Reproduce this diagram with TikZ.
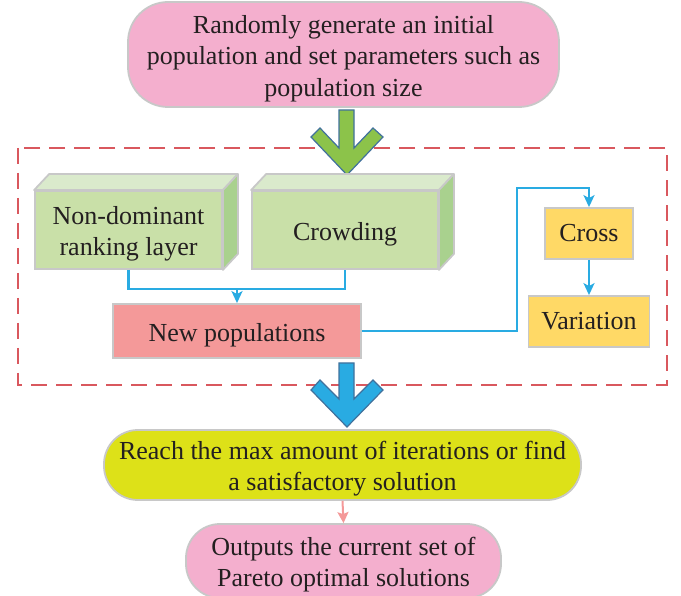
\documentclass[tikz,border=0pt]{standalone}
\usepackage{fontspec}
\setmainfont{Liberation Serif}
\usetikzlibrary{arrows.meta}
\definecolor{pinkfill}{RGB}{244,175,206}
\definecolor{salmon}{RGB}{244,153,153}
\definecolor{yelfill}{RGB}{255,217,102}
\definecolor{limefill}{RGB}{221,225,24}
\definecolor{gfront}{RGB}{201,224,168}
\definecolor{gtop}{RGB}{218,234,204}
\definecolor{gside}{RGB}{169,209,142}
\definecolor{edgegray}{RGB}{200,200,200}
\definecolor{lineblue}{RGB}{41,171,226}
\definecolor{dashred}{RGB}{217,88,94}
\definecolor{arrgreen}{RGB}{140,195,74}
\definecolor{arrblue}{RGB}{41,171,226}
\definecolor{arredge}{RGB}{65,113,156}
\definecolor{txt}{RGB}{35,31,32}
\newcommand\topstrut{\rule{0pt}{26pt}}
\begin{document}
\begin{tikzpicture}[x=1pt,y=-1pt,
  font=\fontsize{26}{31.5}\selectfont, text=txt,
  box/.style={draw=edgegray, line width=1.8pt, inner sep=0pt, align=center},
  pill/.style={box, rounded corners=#1},
  conn/.style={draw=lineblue, line width=2.4pt},
  tip/.style={-{Stealth[length=12pt,width=11pt,inset=3pt]}},
  blockarr/.style={draw=arredge, line width=1.2pt, line join=miter}]
\useasboundingbox (0,0) rectangle (681,596);

% dashed frame
\draw[dashred, line width=2.5pt, dash pattern=on 16pt off 9pt] (18,148) rectangle (667,385);

% top pill
\node[pill=40pt, fill=pinkfill, minimum width=431pt, minimum height=105pt] (init) at (343.5,54.5)
  {\topstrut Randomly generate an initial\\population and set parameters such as\\population size};

% green block arrow
\draw[blockarr, fill=arrgreen] (339,110) -- (354,110) -- (354,148) -- (373,128) -- (383,137)
  -- (347,175) -- (311,137) -- (320,128) -- (339,148) -- cycle;

% green 3D boxes
\node[box, fill=gfront, minimum width=187pt, minimum height=78pt] (rank) at (128.5,230)
  {\topstrut Non-dominant\\ranking layer};
\node[box, fill=gfront, minimum width=186pt, minimum height=78pt] (crowd) at (345,230) {\topstrut Crowding};
\foreach \b in {rank,crowd}{
  \draw[draw=edgegray, line width=1.8pt, fill=gtop, line join=round]
    (\b.north west) -- ([shift={(15,-16)}]\b.north west) -- ([shift={(15,-16)}]\b.north east)
    -- (\b.north east) -- cycle;
  \draw[draw=edgegray, line width=1.8pt, fill=gside, line join=round]
    (\b.north east) -- ([shift={(15,-16)}]\b.north east) -- ([shift={(15,-16)}]\b.south east)
    -- (\b.south east) -- cycle;
}

% new populations
\node[box, fill=salmon, minimum width=248pt, minimum height=54pt] (newpop) at (237,331) {\topstrut New populations};

% cross / variation
\node[box, fill=yelfill, minimum width=88pt, minimum height=51pt] (cross) at (589,233.5) {Cross};
\node[box, fill=yelfill, minimum width=121pt, minimum height=51pt] (var) at (589,321.5) {Variation};

% connectors
\coordinate (merge) at (237,289);
\draw[conn] (rank.south) |- (merge) -| (crowd.south);
\draw[conn, tip] (merge) -- (newpop.north);
\coordinate (turn) at (517,188);
\draw[conn, tip] (newpop.east) -| (turn) -| (cross.north);
\draw[conn, tip] (cross.south) -- (var.north);

% blue block arrow
\draw[blockarr, fill=arrblue] (339,363) -- (354,363) -- (354,399) -- (373,380) -- (383,390)
  -- (347,427) -- (311,390) -- (320,380) -- (339,399) -- cycle;

% termination pill
\node[pill=34pt, fill=limefill, minimum width=477pt, minimum height=70pt] (reach) at (342.5,465)
  {\topstrut Reach the max amount of iterations or find\\a satisfactory solution};

% output pill
\node[pill=34pt, fill=pinkfill, minimum width=315pt, minimum height=74pt] (out) at (343.5,561)
  {\topstrut Outputs the current set of\\Pareto optimal solutions};

\draw[draw=salmon, line width=2pt, -{Stealth[length=11pt,width=11pt,inset=2pt]}] (reach.south) -- (out.north);
\end{tikzpicture}
\end{document}
